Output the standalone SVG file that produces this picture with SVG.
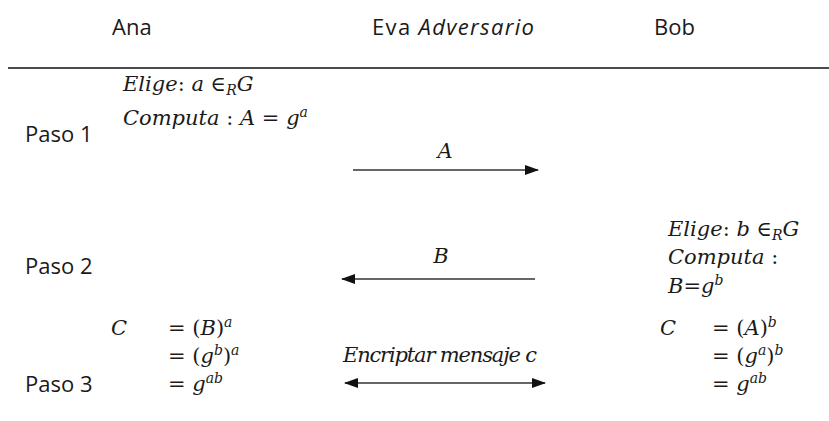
<svg xmlns="http://www.w3.org/2000/svg" width="829" height="421" viewBox="0 0 829 421">
<defs>
<marker id="ah" viewBox="0 0 14 10" refX="13" refY="5" markerWidth="14" markerHeight="10" markerUnits="userSpaceOnUse" orient="auto-start-reverse">
<path d="M0,0 L14,5 L0,10 z" fill="#111"/>
</marker>
<style>
.r{font-family:"Open Sans","Liberation Sans",sans-serif;font-size:22px;fill:#1a1a1a}
.m{font-family:"DejaVu Serif","Liberation Serif",serif;font-style:italic;font-size:21px;fill:#1a1a1a}
.mr{font-family:"DejaVu Serif","Liberation Serif",serif;font-size:21px;fill:#1a1a1a}
.i{font-style:italic}
.n{font-style:normal}
.sup{font-size:14px;font-style:italic}
.c{stroke:#333;stroke-width:1.6;fill:none}
</style>
</defs>
<rect width="829" height="421" fill="#fff"/>
<g id="header">
<text class="r" x="112" y="35">Ana</text>
<text class="r" x="372" y="35" textLength="162">Eva <tspan class="i">Adversario</tspan></text>
<text class="r" x="654" y="35">Bob</text>
<line x1="8" y1="68" x2="829" y2="68" stroke="#111" stroke-width="1.6"/>
</g>
<g id="pasos">
<text class="r" x="25" y="142">Paso 1</text>
<text class="r" x="25" y="274">Paso 2</text>
<text class="r" x="25" y="392">Paso 3</text>
</g>
<g id="ana-paso1">
<text class="m" x="123" y="91">Elige<tspan class="n">:</tspan> a <tspan class="n">∈</tspan><tspan class="sup" dy="4">R</tspan><tspan dy="-4">G</tspan></text>
<text class="m" x="123" y="125">Computa <tspan class="n">:</tspan> A <tspan class="n">=</tspan> g<tspan class="sup" dy="-8">a</tspan></text>
</g>
<g id="bob-paso2">
<text class="m" x="668" y="236">Elige<tspan class="n">:</tspan> b <tspan class="n">∈</tspan><tspan class="sup" dy="4">R</tspan><tspan dy="-4">G</tspan></text>
<text class="m" x="668" y="264">Computa <tspan class="n">:</tspan></text>
<text class="m" x="668" y="293">B<tspan class="n">=</tspan>g<tspan class="sup" dy="-8">b</tspan></text>
</g>
<g id="ana-paso3">
<text class="m" x="111" y="335">C</text>
<text class="mr" x="168" y="335">= (<tspan class="i">B</tspan>)<tspan class="sup" dy="-8">a</tspan></text>
<text class="mr" x="168" y="363">= (<tspan class="i">g</tspan><tspan class="sup" dy="-8">b</tspan><tspan dy="8">)</tspan><tspan class="sup" dy="-8">a</tspan></text>
<text class="mr" x="168" y="391">= <tspan class="i">g</tspan><tspan class="sup" dy="-8">ab</tspan></text>
</g>
<g id="bob-paso3">
<text class="m" x="660" y="335">C</text>
<text class="mr" x="712" y="335">= (<tspan class="i">A</tspan>)<tspan class="sup" dy="-8">b</tspan></text>
<text class="mr" x="712" y="363">= (<tspan class="i">g</tspan><tspan class="sup" dy="-8">a</tspan><tspan dy="8">)</tspan><tspan class="sup" dy="-8">b</tspan></text>
<text class="mr" x="712" y="391">= <tspan class="i">g</tspan><tspan class="sup" dy="-8">ab</tspan></text>
</g>
<g id="connectors">
<line class="c" x1="353" y1="170" x2="538" y2="170" marker-end="url(#ah)"/>
<text class="m" x="445" y="158" text-anchor="middle">A</text>
<line class="c" x1="535" y1="279" x2="342" y2="279" marker-end="url(#ah)"/>
<text class="m" x="441" y="263" text-anchor="middle">B</text>
<line class="c" x1="345" y1="383" x2="545" y2="383" marker-start="url(#ah)" marker-end="url(#ah)"/>
<text class="m" x="343" y="362" textLength="194">Encriptar mensaje c</text>
</g>
</svg>
